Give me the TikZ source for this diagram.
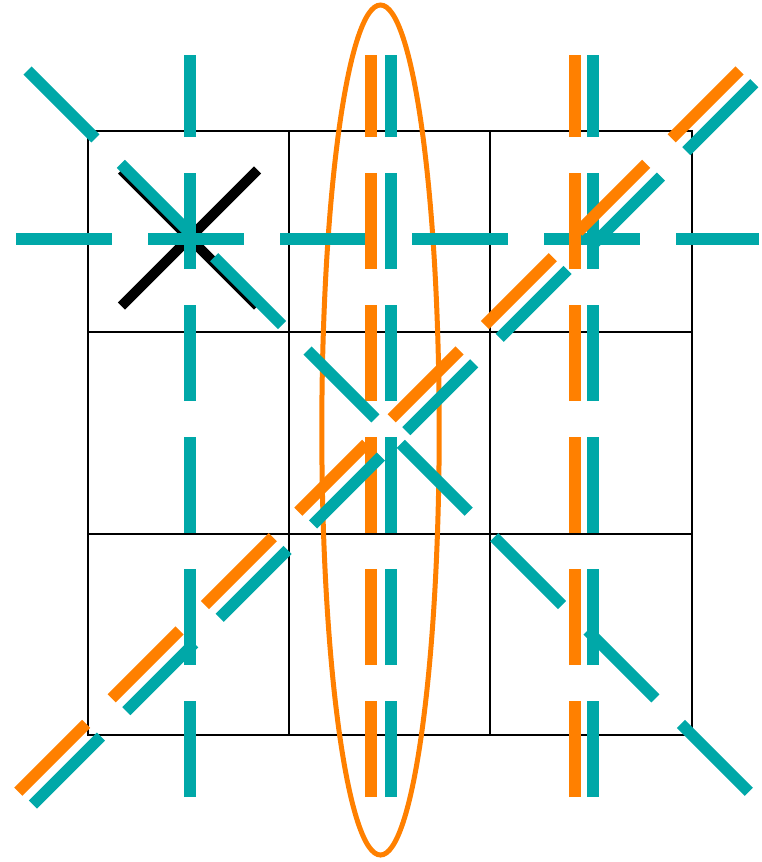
\documentclass[tikz,border=0pt]{standalone}
\definecolor{tealc}{RGB}{0,168,168}
\definecolor{orangec}{RGB}{255,128,0}
\begin{document}
\begin{tikzpicture}[x=1pt,y=-1pt,
  gridline/.style={line width=2pt,black},
  dashpat/.style={dash pattern=on 96pt off 36pt},
  tealdash/.style={line width=12pt,tealc,dashpat},
  orangedash/.style={line width=12pt,orangec,dashpat},
  tealdiag/.style={line width=11.5pt,tealc,dashpat},
  orangediag/.style={line width=11.5pt,orangec,dashpat},
  blackbar/.style={line width=10pt,black},
  ring/.style={line width=5pt,orangec}]
\useasboundingbox (0,0) rectangle (761,862);
% grid
\coordinate (g00) at (88,131);
\coordinate (g33) at (692,735);
\draw[gridline] (g00) rectangle (g33);
\draw[gridline] (289,131) -- (289,735);
\draw[gridline] (490,131) -- (490,735);
\draw[gridline] (88,332) -- (692,332);
\draw[gridline] (88,534) -- (692,534);
% ellipse
\coordinate (ec) at (380.5,430);
\draw[ring] (ec) ellipse [x radius=58.7, y radius=425];
% black X
\coordinate (bx1) at (121.5,170);
\coordinate (bx2) at (257.5,306);
\coordinate (bx3) at (121.5,306);
\coordinate (bx4) at (257.5,170);
\draw[blackbar] (bx1) -- (bx2);
\draw[blackbar] (bx3) -- (bx4);
% teal horizontal
\coordinate (h1) at (16,239);
\coordinate (h2) at (759,239);
\draw[tealdash] (h1) -- (h2);
% verticals (drawn from bottom up)
\draw[tealdash] (190,797) -- (190,55);
\draw[orangedash] (371,797) -- (371,55);
\draw[tealdash] (391,797) -- (391,55);
\draw[orangedash] (575,797) -- (575,55);
\draw[tealdash] (593,797) -- (593,55);
% diagonals
\coordinate (o1) at (18.3,791.7);
\coordinate (o2) at (740,70);
\coordinate (t1) at (33,804.5);
\coordinate (t2) at (754.7,82.8);
\coordinate (d1) at (27.5,70.5);
\coordinate (d2) at (750.7,793.7);
\draw[orangediag] (o1) -- (o2);
\draw[tealdiag] (t1) -- (t2);
\draw[tealdiag] (d1) -- (d2);
\end{tikzpicture}
\end{document}
